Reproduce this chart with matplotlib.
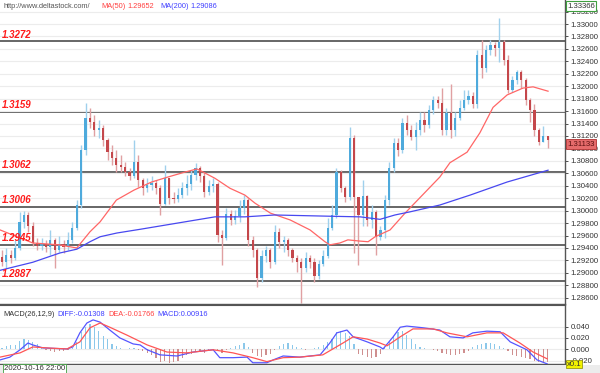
import numpy as np
import matplotlib.pyplot as plt
from matplotlib.patches import Rectangle

plt.rcParams['font.family'] = ['Liberation Sans', 'DejaVu Sans']

# --- candle data (4h bars), open of each bar = previous close ---
first_open = 1.2925
closes = [1.2917, 1.2929, 1.2924, 1.2940, 1.2982, 1.2993, 1.2975, 1.2948, 1.2943, 1.2946,
          1.2942, 1.2953, 1.2937, 1.2946, 1.2942, 1.2953, 1.2972, 1.3009, 1.3097, 1.3149,
          1.3142, 1.3130, 1.3133, 1.3114, 1.3094, 1.3085, 1.3073, 1.3070, 1.3062, 1.3056,
          1.3078, 1.3049, 1.3036, 1.3041, 1.3044, 1.3036, 1.3011, 1.3052, 1.3020, 1.3019,
          1.3025, 1.3036, 1.3043, 1.3057, 1.3069, 1.3056, 1.3030, 1.3040, 1.3043, 1.2961,
          1.2956, 1.2995, 1.2985, 1.2991, 1.3004, 1.3017, 1.2953, 1.2937, 1.2892, 1.2927,
          1.2937, 1.2917, 1.2966, 1.2950, 1.2953, 1.2937, 1.2924, 1.2917, 1.2908, 1.2924,
          1.2917, 1.2895, 1.2914, 1.2927, 1.2972, 1.2993, 1.3062, 1.3036, 1.3022, 1.3117,
          1.3022, 1.2993, 1.3024, 1.2985, 1.2998, 1.2958, 1.2969, 1.3017, 1.3069, 1.3109,
          1.3097, 1.3141, 1.3130, 1.3118, 1.3130, 1.3146, 1.3138, 1.3162, 1.3178, 1.3173,
          1.3130, 1.3157, 1.3130, 1.3149, 1.3165, 1.3178, 1.3184, 1.3171, 1.3250, 1.3229,
          1.3258, 1.3266, 1.3261, 1.3271, 1.3242, 1.3194, 1.3210, 1.3223, 1.3210, 1.3178,
          1.3162, 1.3130, 1.3110, 1.3120, 1.31133]
highs = [1.2937, 1.2940, 1.2937, 1.2953, 1.2998, 1.2999, 1.2998, 1.2982, 1.2956, 1.2956,
         1.2953, 1.2969, 1.2956, 1.2959, 1.2953, 1.2966, 1.2982, 1.3017, 1.3106, 1.3173,
         1.3165, 1.3154, 1.3146, 1.3138, 1.3117, 1.3106, 1.3097, 1.3089, 1.3078, 1.3069,
         1.3114, 1.3089, 1.3052, 1.3052, 1.3056, 1.3049, 1.3041, 1.3073, 1.3052, 1.3030,
         1.3036, 1.3046, 1.3057, 1.3065, 1.3077, 1.3072, 1.3062, 1.3049, 1.3052, 1.3046,
         1.2969, 1.3004, 1.3001, 1.3001, 1.3017, 1.3025, 1.3020, 1.2959, 1.2940, 1.2937,
         1.2943, 1.2940, 1.2977, 1.2972, 1.2959, 1.2956, 1.2940, 1.2929, 1.2924, 1.2933,
         1.2929, 1.2924, 1.2921, 1.2937, 1.2988, 1.3009, 1.3069, 1.3065, 1.3040, 1.3134,
         1.3122, 1.3017, 1.3049, 1.3025, 1.3009, 1.3001, 1.2975, 1.3025, 1.3078, 1.3117,
         1.3117, 1.3149, 1.3154, 1.3138, 1.3142, 1.3159, 1.3159, 1.3170, 1.3184, 1.3184,
         1.3197, 1.3165, 1.3204, 1.3159, 1.3178, 1.3194, 1.3194, 1.3191, 1.3258, 1.3274,
         1.3266, 1.3274, 1.3271, 1.3310, 1.3274, 1.3250, 1.3216, 1.3226, 1.3226, 1.3213,
         1.3181, 1.3171, 1.3133, 1.3136, 1.3120]
lows = [1.2911, 1.2908, 1.2916, 1.2921, 1.2937, 1.2972, 1.2966, 1.2943, 1.2937, 1.2937,
        1.2933, 1.2929, 1.2908, 1.2933, 1.2932, 1.2937, 1.2948, 1.2969, 1.3004, 1.3089,
        1.3133, 1.3120, 1.3117, 1.3104, 1.3081, 1.3073, 1.3062, 1.3062, 1.3056, 1.3049,
        1.3052, 1.3038, 1.3025, 1.3030, 1.3033, 1.3027, 1.2993, 1.3009, 1.3011, 1.3012,
        1.3014, 1.3020, 1.3025, 1.3033, 1.3049, 1.3046, 1.3022, 1.3025, 1.3030, 1.2950,
        1.2913, 1.2953, 1.2977, 1.2979, 1.2982, 1.2995, 1.2943, 1.2925, 1.2877, 1.2885,
        1.2917, 1.2908, 1.2914, 1.2940, 1.2933, 1.2927, 1.2917, 1.2901, 1.2851, 1.2901,
        1.2908, 1.2885, 1.2890, 1.2911, 1.2924, 1.2969, 1.2988, 1.3030, 1.3014, 1.3017,
        1.2932, 1.2913, 1.2975, 1.2975, 1.2972, 1.2929, 1.2953, 1.2956, 1.3009, 1.3062,
        1.3088, 1.3093, 1.3122, 1.3114, 1.3097, 1.3122, 1.3126, 1.3133, 1.3155, 1.3165,
        1.3122, 1.3122, 1.3117, 1.3120, 1.3146, 1.3162, 1.3171, 1.3165, 1.3165, 1.3213,
        1.3223, 1.3250, 1.3249, 1.3239, 1.3234, 1.3189, 1.3191, 1.3204, 1.3197, 1.3170,
        1.3142, 1.3120, 1.3106, 1.3110, 1.3101]

# moving averages, read at bar positions
ma50_x = [-0.45, 7, 13, 17, 20, 22.3, 26, 30, 34, 37.7, 41.6, 44.3, 45.7, 48.4, 51.8, 55.2,
          57.5, 61, 65.5, 70, 73.4, 74.5, 76.8, 78.6, 81.4, 83.2, 84.8, 88.2, 91.6, 99.5,
          101.8, 105.7, 108.6, 111.6, 114.8, 118.4, 120.7, 124.1]
ma50 = [1.2969, 1.2948, 1.2945, 1.2940, 1.2966, 1.2982, 1.3017, 1.3033, 1.3046, 1.3054,
        1.3062, 1.3067, 1.3062, 1.3052, 1.3036, 1.3025, 1.3012, 1.2996, 1.2985, 1.2969,
        1.2950, 1.2945, 1.2948, 1.2953, 1.2951, 1.2950, 1.2958, 1.2969, 1.2996, 1.3054,
        1.3077, 1.3094, 1.3125, 1.3166, 1.3186, 1.3197, 1.3199, 1.3192]
ma200_x = [-0.45, 7, 13.2, 17, 20, 22.3, 26.1, 31.4, 41.6, 48.4, 55.2, 62, 74.5, 81.4,
           85.9, 89.3, 92.7, 99.5, 106.4, 114.8, 124.1]
ma200 = [1.2904, 1.2917, 1.2932, 1.2938, 1.2950, 1.2958, 1.2964, 1.2970, 1.2982, 1.2990,
         1.2990, 1.2993, 1.2991, 1.2990, 1.2986, 1.2993, 1.2998, 1.3009, 1.3025, 1.3046,
         1.3065]

levels = [1.3272, 1.3159, 1.3062, 1.3006, 1.2945, 1.2887]
price_ticks = [1.286, 1.288, 1.290, 1.292, 1.294, 1.296, 1.298, 1.300, 1.302, 1.304,
               1.306, 1.308, 1.310, 1.312, 1.314, 1.316, 1.318, 1.320, 1.322, 1.324,
               1.326, 1.328, 1.330, 1.332]

# MACD panel (values in axis units)
macd_hist = [0.003, 0.006, 0.008, 0.008, 0.015, 0.018, 0.016, 0.012, 0.010, 0.004,
             -0.002, -0.003, -0.005, -0.004, -0.003, -0.002, 0.002, 0.012, 0.030, 0.040,
             0.045, 0.040, 0.032, 0.024, 0.018, 0.010, 0.005, 0.002, 0.001, 0.002,
             0.003, -0.002, -0.004, -0.006, -0.010, -0.016, -0.022, -0.020, -0.024, -0.023,
             -0.020, -0.016, -0.011, -0.008, -0.005, -0.004, -0.006, -0.003, -0.001, -0.004,
             -0.006, -0.002, 0.003, 0.005, 0.008, 0.011, 0.004, -0.006, -0.012, -0.013,
             -0.010, -0.008, -0.002, 0.006, 0.010, 0.011, 0.007, 0.004, 0.002, -0.002,
             0.001, 0.002, 0.004, 0.007, 0.012, 0.018, 0.030, 0.033, 0.028, 0.024,
             0.010, -0.008, -0.010, -0.013, -0.015, -0.014, -0.008, 0.004, 0.012, 0.024,
             0.030, 0.032, 0.025, 0.018, 0.010, 0.004, 0.002, 0.001, -0.001, -0.003,
             -0.006, -0.008, -0.010, -0.010, -0.008, -0.006, -0.003, 0.004, 0.008, 0.010,
             0.011, 0.011, 0.009, 0.005, 0.002, -0.004, -0.010, -0.012, -0.014, -0.016,
             -0.018, -0.020, -0.022, -0.022, -0.022]
diff_x = [-0.45, 1.8, 4.1, 5.9, 7, 9.3, 14.8, 16.1, 17.7, 19.3, 20.7, 22.3, 24.5, 26.8,
          29.8, 31.4, 33, 35.9, 39.8, 43.4, 48, 49.5, 52.5, 55.7, 57, 60.2, 61.6, 63.9,
          67.7, 72.3, 74.5, 76.1, 78.4, 79.8, 83, 85.9, 86.6, 88.9, 90.5, 92, 95.7, 99.5,
          101.8, 104.8, 107, 110.2, 113.2, 115.5, 119.3, 121.6, 123.9]
diff = [-0.019, -0.014, -0.001, 0.011, 0.0076, 0.0023, 0.0005, 0.004, 0.029, 0.0465,
        0.052, 0.048, 0.034, 0.020, 0.0094, 0.0076, -0.001, -0.010, -0.012, -0.005,
        -0.001, -0.015, -0.015, -0.014, -0.024, -0.024, -0.019, -0.012, -0.014, -0.010,
        0.011, 0.029, 0.034, 0.022, 0.013, 0.004, 0.0005, 0.022, 0.039, 0.041,
        0.038, 0.034, 0.022, 0.020, 0.029, 0.032, 0.031, 0.013, -0.001, -0.019, -0.026]
dea_x = [-0.45, 4.1, 7, 10.9, 14.8, 17.7, 20, 22.3, 24.5, 28.4, 33, 37.5, 42, 48, 52.5,
         57, 60.2, 63.9, 67.7, 72.9, 77.5, 79.8, 83, 85.9, 87.5, 90.5, 93.4, 98, 101.1,
         105.7, 110.2, 113.9, 117.7, 120.7, 123.9]
dea = [-0.014, -0.0065, 0.004, 0.002, 0.0005, 0.013, 0.038, 0.0465, 0.039, 0.025,
       0.0076, -0.005, -0.0065, -0.001, -0.0065, -0.015, -0.022, -0.015, -0.014, -0.010,
       0.011, 0.022, 0.018, 0.011, 0.006, 0.022, 0.036, 0.036, 0.029, 0.022,
       0.029, 0.029, 0.011, -0.005, -0.017]
macd_ticks = [-0.02, 0.0, 0.02, 0.04]
macd_labels = ['-0.020', '0.000', '0.020', '0.040']

BULL, BEAR = '#4eaadc', '#c4474b'
BULL_W, BEAR_W = '#9fd0ec', '#e0a0a2'

fig = plt.figure(figsize=(6, 3.73), dpi=100)
ax = fig.add_axes([0, 69 / 373, 565 / 600, 304 / 373])
ax2 = fig.add_axes([0, 9 / 373, 565 / 600, 59 / 373], sharex=ax)

opens = [first_open] + closes[:-1]
idx = np.arange(len(closes))
for i in idx:
    o, c = opens[i], closes[i]
    up = c >= o
    ax.vlines(i, lows[i], highs[i], color=BULL_W if up else BEAR_W, lw=1, zorder=2)
    h = max(abs(c - o), 0.00003)
    ax.bar(i, h, bottom=min(o, c), width=0.5, color=BULL if up else BEAR, zorder=3)

ax.plot(ma50_x, ma50, color='#ff6666', lw=0.9, zorder=4)
ax.plot(ma200_x, ma200, color='#4848f0', lw=0.9, zorder=4)

for lv in levels:
    ax.axhline(lv, color='#5a5a5a', lw=1.3, zorder=1)
    ax.text(0.004, lv + 0.0003, f'{lv:.4f}', transform=ax.get_yaxis_transform(),
            color='#ff1a1a', fontsize=7, fontweight='bold', fontstyle='italic',
            va='bottom', ha='left', zorder=6)

ax.set_xlim(-0.45, 127.95)
ax.set_ylim(1.28499, 1.33386)
ax.set_yticks(price_ticks)
ax.set_yticklabels([f'{t:.5f}' for t in price_ticks])
ax.grid(axis='y', color='#ececec', lw=0.8, zorder=0)
for a in (ax, ax2):
    a.yaxis.tick_right()
    a.tick_params(axis='y', labelsize=5.6, colors='#333333', length=2.5, width=0.6, pad=1.5)
    a.tick_params(axis='x', bottom=False, labelbottom=False)
    a.spines['left'].set_visible(False)
    a.spines['top'].set_visible(False)
    a.spines['right'].set_color('#555555')
    a.spines['bottom'].set_color('#555555')
    a.spines['right'].set_linewidth(1)
    a.spines['bottom'].set_linewidth(1)

# MACD
hcols = ['#8cc8ea' if v >= 0 else '#cf8f8f' for v in macd_hist]
ax2.bar(idx, macd_hist, width=0.3, color=hcols, zorder=2)
ax2.plot(diff_x, diff, color='#5555ff', lw=0.9, zorder=3)
ax2.plot(dea_x, dea, color='#ff5555', lw=0.9, zorder=3)
ax2.set_ylim(-0.0262, 0.0784)
ax2.set_yticks(macd_ticks)
ax2.set_yticklabels(macd_labels)
ax2.grid(axis='y', color='#ececec', lw=0.8, zorder=0)
ax2.spines['top'].set_visible(True)
ax2.spines['top'].set_color('#555555')

# header texts
def ftext(x, y, s, c, size=5.3, **kw):
    fig.text(x / 600, 1 - y / 373, s, color=c, fontsize=size, va='center', ha='left', **kw)

ftext(3, 7, 'http://www.deltastock.com/', '#555555')
ftext(101, 7, 'MA(50)', '#ff4040')
ftext(127, 7, '1.29652', '#ff4040')
ftext(160, 7, 'MA(200)', '#4040ff')
ftext(190, 7, '1.29086', '#4040ff')

ftext(3, 314, 'MACD(26,12,9)', '#333333')
ftext(57, 314, 'DIFF:-0.01308', '#4040ff')
ftext(108, 314, 'DEA:-0.01766', '#ff4040')
ftext(157, 314, 'MACD:0.00916', '#4040ff')

# price boxes on right axis
fig.text(567 / 600, 1 - 6 / 373, '1.33366', fontsize=5.6, color='#333333', va='center',
         bbox=dict(boxstyle='square,pad=0.15', fc='white', ec='#3f9f3f', lw=0.8))
fig.text(567 / 600, 1 - 144 / 373, '1.31133', fontsize=5.6, color='#5a1010', va='center',
         bbox=dict(boxstyle='square,pad=0.15', fc='#e56b6b', ec='#b03030', lw=0.6))
fig.text(567 / 600, 1 - 364 / 373, 'x0.1', fontsize=5.6, color='#333333', va='center',
         bbox=dict(boxstyle='square,pad=0.1', fc='#f2f200', ec='#888800', lw=0.5))

# bottom status strip
fig.patches.append(Rectangle((0, 0), 1, 8 / 373, transform=fig.transFigure,
                             fc='#ececec', ec='none', zorder=0))
fig.text(4 / 600, 4 / 373, '2020-10-16 22:00', fontsize=5.6, color='#333333', va='center',
         bbox=dict(boxstyle='square,pad=0.15', fc='white', ec='#3f9f3f', lw=0.6))

fig.savefig('out.png', dpi=100)
